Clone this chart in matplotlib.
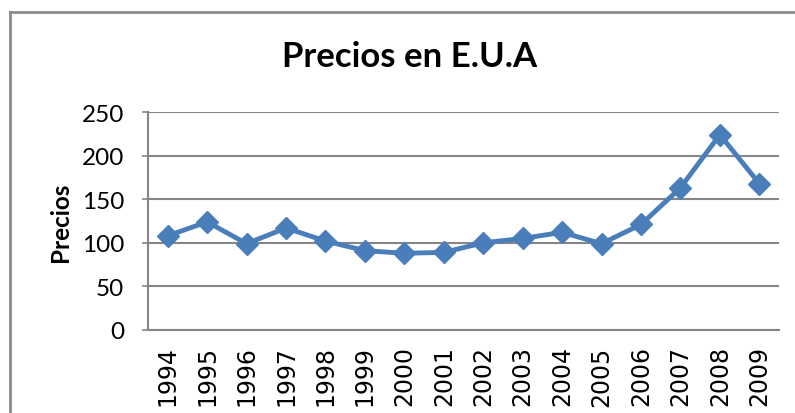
# -*- coding: utf-8 -*-
"""
Precios en E.U.A -- line chart, Excel-style
"""

import numpy as np
import matplotlib
matplotlib.use('Agg')
import matplotlib.pyplot as plt
from matplotlib.lines import Line2D


# ================================== DATA =================================== #
YEARS  = ['1994', '1995', '1996', '1997', '1998', '1999', '2000', '2001',
          '2002', '2003', '2004', '2005', '2006', '2007', '2008', '2009']
PRICES = [108, 124, 99, 117, 102, 91, 88, 89,
          100, 105, 112, 99, 121, 163, 224, 168]
YTICKS = [0, 50, 100, 150, 200, 250]

TITLE  = 'Precios en E.U.A'
YLABEL = 'Precios'
# =========================================================================== #


BLUE = '#4A7EBB'
GRID = '#868686'

fig = plt.figure(figsize=(7.95, 4.14), dpi=100)
ax  = fig.add_axes([148/795, 83/414, (779-148)/795, (331-113)/414])

x = np.arange(len(YEARS))
ax.plot(x, PRICES, color=BLUE, lw=3.5, marker='D', ms=11.5,
        markeredgecolor=BLUE, markerfacecolor=BLUE, zorder=3)

ax.set_xlim(-0.5, len(YEARS) - 0.5)
ax.set_ylim(0, 250)
ax.set_yticks(YTICKS)
ax.set_yticklabels([str(v) for v in YTICKS], fontfamily='Lato', fontsize=17.5)
ax.set_xticks(x)
ax.set_xticklabels(YEARS, rotation=90, fontfamily='DejaVu Sans', fontsize=17)

ax.yaxis.grid(True, color=GRID, lw=1.5)
ax.set_axisbelow(True)
for s in ['top', 'right']:
    ax.spines[s].set_visible(False)
for s in ['left', 'bottom']:
    ax.spines[s].set_color(GRID)
    ax.spines[s].set_linewidth(1.5)
ax.tick_params(axis='y', length=4, color=GRID, width=1.2, pad=13)
ax.tick_params(axis='x', length=0, pad=11)

fig.text(410/795, 1 - 57/414, TITLE, ha='center', va='center',
         fontfamily='Lato', fontweight='bold', fontsize=25)
fig.text(61/795, 1 - 222/414, YLABEL, ha='center', va='center', rotation=90,
         fontfamily='Lato', fontweight='bold', fontsize=17.5)

# chart frame (runs off right and bottom edges)
fig.add_artist(Line2D([10/795, 10/795], [-0.05, 1 - 13/414],
                      transform=fig.transFigure, color='#8C8C8C', lw=2))
fig.add_artist(Line2D([10/795, 1.05], [1 - 13/414, 1 - 13/414],
                      transform=fig.transFigure, color='#8C8C8C', lw=2))

fig.savefig('out.png', dpi=100)
